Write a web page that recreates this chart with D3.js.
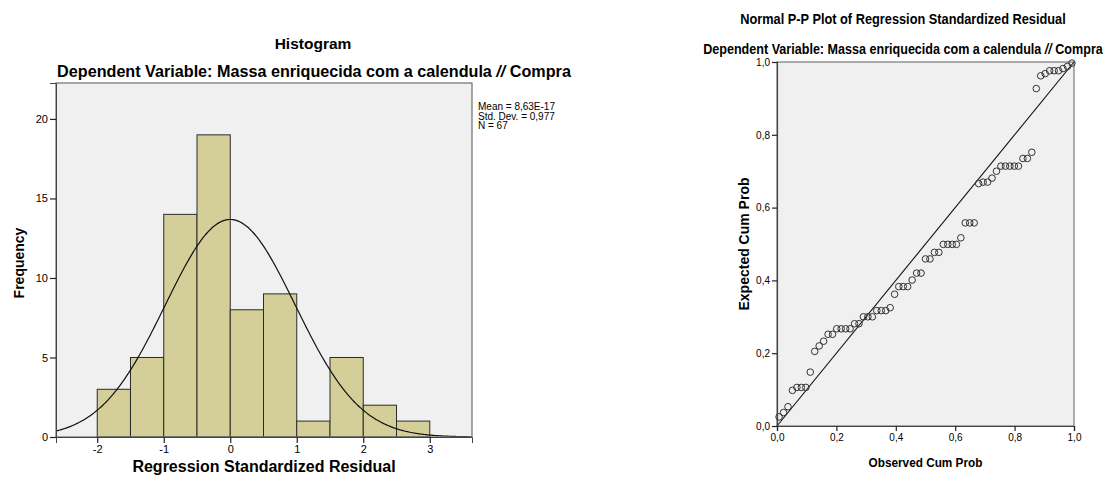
<!DOCTYPE html>
<html>
<head>
<meta charset="utf-8">
<script src="https://cdn.jsdelivr.net/npm/d3@7"></script>
<style>
  html, body { margin: 0; padding: 0; background: #fff; }
  svg { display: block; }
  text { font-family: "Liberation Sans", Arial, sans-serif; fill: #000; }
</style>
</head>
<body>
<svg id="chart" width="1107" height="477"></svg>
<script>
// ---- Histogram data: regression standardized residuals ----
const binLower = [-2.0, -1.5, -1.0, -0.5, 0.0, 0.5, 1.0, 1.5, 2.0, 2.5];
const binCounts = [3, 5, 14, 19, 8, 9, 1, 5, 2, 1];
const binWidth = 0.5;
const histXTicks = [-2, -1, 0, 1, 2, 3];
const histYTicks = [0, 5, 10, 15, 20];
const statLines = ["Mean = 8,63E-17", "Std. Dev. = 0,977", "N = 67"];
const residMean = 8.63e-17;
const residSD = 0.977;
const residN = 67;

// ---- Normal P-P plot data ----
const observedCum = [
  0.007, 0.022, 0.037, 0.052, 0.067, 0.082, 0.097, 0.112, 0.127, 0.142,
  0.157, 0.172, 0.187, 0.201, 0.216, 0.231, 0.246, 0.261, 0.276, 0.291,
  0.306, 0.321, 0.336, 0.351, 0.366, 0.381, 0.396, 0.410, 0.425, 0.440,
  0.455, 0.470, 0.485, 0.500, 0.515, 0.530, 0.545, 0.560, 0.575, 0.590,
  0.604, 0.619, 0.634, 0.649, 0.664, 0.679, 0.694, 0.709, 0.724, 0.739,
  0.754, 0.769, 0.784, 0.799, 0.813, 0.828, 0.843, 0.858, 0.873, 0.888,
  0.903, 0.918, 0.933, 0.948, 0.963, 0.978, 0.993
];
const expectedCum = [
  0.025, 0.037, 0.053, 0.098, 0.106, 0.106, 0.106, 0.148, 0.205, 0.220,
  0.233, 0.252, 0.252, 0.267, 0.267, 0.267, 0.267, 0.281, 0.281, 0.300,
  0.300, 0.300, 0.317, 0.317, 0.317, 0.325, 0.362, 0.383, 0.383, 0.383,
  0.401, 0.420, 0.420, 0.459, 0.459, 0.477, 0.477, 0.499, 0.499, 0.499,
  0.499, 0.517, 0.558, 0.558, 0.558, 0.666, 0.670, 0.670, 0.681, 0.700,
  0.714, 0.714, 0.714, 0.714, 0.714, 0.735, 0.735, 0.752, 0.927, 0.962,
  0.968, 0.976, 0.976, 0.976, 0.982, 0.988, 0.997
];
const ppTicks = [0, 0.2, 0.4, 0.6, 0.8, 1.0];

const subtitleParts = [
  { s: "Dependent Variable: Massa enriquecida com a calendula ", italic: false },
  { s: "//", italic: true },
  { s: " Compra", italic: false }
];
const commaFmt = d => d3.format(".1f")(d).replace(".", ",");

const svg = d3.select("#chart");

// Centered text squeezed horizontally to a given width (condensed look)
function fittedText(g, cx, y, size, weight, width, parts) {
  const holder = g.append("g");
  const t = holder.append("text").attr("x", 0).attr("y", 0)
    .attr("text-anchor", "middle").attr("font-size", size).attr("font-weight", weight);
  parts.forEach(p => t.append("tspan")
    .attr("font-style", p.italic ? "italic" : "normal").text(p.s));
  const w = t.node().getComputedTextLength() || width;
  holder.attr("transform", `translate(${cx},${y}) scale(${width / w},1)`);
  return t;
}

// ================= Histogram =================
const H = { left: 56, right: 472, top: 83, bottom: 437 };
const hx = d3.scaleLinear().domain([-2.62, 3.635]).range([H.left, H.right]);
const hy = d3.scaleLinear().domain([0, 22.26]).range([H.bottom, H.top]);

const hist = svg.append("g");
hist.append("defs").append("clipPath").attr("id", "histClip")
  .append("rect").attr("x", H.left).attr("y", H.top)
  .attr("width", H.right - H.left).attr("height", H.bottom - H.top);

hist.append("rect")
  .attr("x", H.left).attr("y", H.top)
  .attr("width", H.right - H.left).attr("height", H.bottom - H.top)
  .attr("fill", "#f0f0f0");

hist.append("g").selectAll("rect")
  .data(binLower.map((b, i) => ({ lo: b, hi: b + binWidth, n: binCounts[i] })))
  .join("rect")
  .attr("x", d => hx(d.lo))
  .attr("y", d => hy(d.n))
  .attr("width", d => hx(d.hi) - hx(d.lo))
  .attr("height", d => hy(0) - hy(d.n))
  .attr("fill", "#d4cf98")
  .attr("stroke", "#2b2b2b")
  .attr("stroke-width", 1);

// fitted normal curve: N * bin width * density
const curvePts = d3.range(-2.62, 3.64, 0.02).map(x => {
  const z = (x - residMean) / residSD;
  return [x, residN * binWidth * Math.exp(-0.5 * z * z) / (residSD * Math.sqrt(2 * Math.PI))];
});
hist.append("path")
  .datum(curvePts)
  .attr("clip-path", "url(#histClip)")
  .attr("fill", "none")
  .attr("stroke", "#111")
  .attr("stroke-width", 1.2)
  .attr("d", d3.line().x(d => hx(d[0])).y(d => hy(d[1])).curve(d3.curveBasis));

hist.append("rect")
  .attr("x", H.left).attr("y", H.top)
  .attr("width", H.right - H.left).attr("height", H.bottom - H.top)
  .attr("fill", "none").attr("stroke", "#6e6e6e").attr("stroke-width", 1.2);

const hyAxis = hist.append("g")
  .attr("transform", `translate(${H.left},0)`)
  .call(d3.axisLeft(hy).tickValues(histYTicks).tickFormat(d => String(d)).tickSize(6).tickPadding(2));
const hxAxis = hist.append("g")
  .attr("transform", `translate(0,${H.bottom})`)
  .call(d3.axisBottom(hx).tickValues(histXTicks).tickFormat(d => String(d)).tickSize(6).tickPadding(2));
[hyAxis, hxAxis].forEach(a => {
  a.select(".domain").attr("stroke", "#444");
  a.selectAll(".tick line").attr("stroke", "#222").attr("stroke-width", 1.2);
  a.selectAll(".tick text").attr("font-size", 11).attr("fill", "#333")
    .attr("font-family", "Liberation Sans, Arial, sans-serif");
});

hist.append("text").attr("x", 313).attr("y", 49)
  .attr("text-anchor", "middle").attr("font-size", 15.5).attr("font-weight", "bold")
  .text("Histogram");
fittedText(hist, 314, 77, 16, "bold", 514, subtitleParts);

hist.append("text")
  .attr("transform", `translate(24,${(H.top + H.bottom) / 2 + 3}) rotate(-90)`)
  .attr("text-anchor", "middle").attr("font-size", 14).attr("font-weight", "bold")
  .text("Frequency");
hist.append("text").attr("x", (H.left + H.right) / 2).attr("y", 472)
  .attr("text-anchor", "middle").attr("font-size", 16).attr("font-weight", "bold")
  .text("Regression Standardized Residual");

hist.append("g").selectAll("text").data(statLines).join("text")
  .attr("x", 478).attr("y", (d, i) => 110 + i * 9.5)
  .attr("font-size", 10).attr("fill", "#111")
  .text(d => d);

// ================= Normal P-P plot =================
const P = { left: 777, right: 1074, top: 62, bottom: 426 };
const px = d3.scaleLinear().domain([0, 1]).range([P.left, P.right]);
const py = d3.scaleLinear().domain([0, 1]).range([P.bottom, P.top]);

const pp = svg.append("g");
pp.append("rect")
  .attr("x", P.left).attr("y", P.top)
  .attr("width", P.right - P.left).attr("height", P.bottom - P.top)
  .attr("fill", "#f0f0f0").attr("stroke", "#7a7a7a").attr("stroke-width", 1.2);

pp.append("line")
  .attr("x1", px(0)).attr("y1", py(0)).attr("x2", px(1)).attr("y2", py(1))
  .attr("stroke", "#111").attr("stroke-width", 1.1);

pp.append("g").selectAll("circle")
  .data(observedCum.map((o, i) => [o, expectedCum[i]]))
  .join("circle")
  .attr("cx", d => px(d[0])).attr("cy", d => py(d[1]))
  .attr("r", 3.3)
  .attr("fill", "none").attr("stroke", "#333").attr("stroke-width", 1);

const pyAxis = pp.append("g")
  .attr("transform", `translate(${P.left},0)`)
  .call(d3.axisLeft(py).tickValues(ppTicks).tickFormat(commaFmt).tickSize(5).tickPadding(2));
const pxAxis = pp.append("g")
  .attr("transform", `translate(0,${P.bottom})`)
  .call(d3.axisBottom(px).tickValues(ppTicks).tickFormat(commaFmt).tickSize(5).tickPadding(3));
[pyAxis, pxAxis].forEach(a => {
  a.select(".domain").attr("stroke", "#444").attr("stroke-width", 1.2);
  a.selectAll(".tick line").attr("stroke", "#222").attr("stroke-width", 1.2);
  a.selectAll(".tick text").attr("font-size", 10).attr("fill", "#333");
});

fittedText(pp, 903, 24, 14, "bold", 326,
  [{ s: "Normal P-P Plot of Regression Standardized Residual", italic: false }]);
fittedText(pp, 903, 54, 14, "bold", 400, subtitleParts);

pp.append("text")
  .attr("transform", `translate(749,${(P.top + P.bottom) / 2}) rotate(-90)`)
  .attr("text-anchor", "middle").attr("font-size", 14).attr("font-weight", "bold")
  .text("Expected Cum Prob");
fittedText(pp, (P.left + P.right) / 2, 467, 13, "bold", 114,
  [{ s: "Observed Cum Prob", italic: false }]);
</script>
</body>
</html>
